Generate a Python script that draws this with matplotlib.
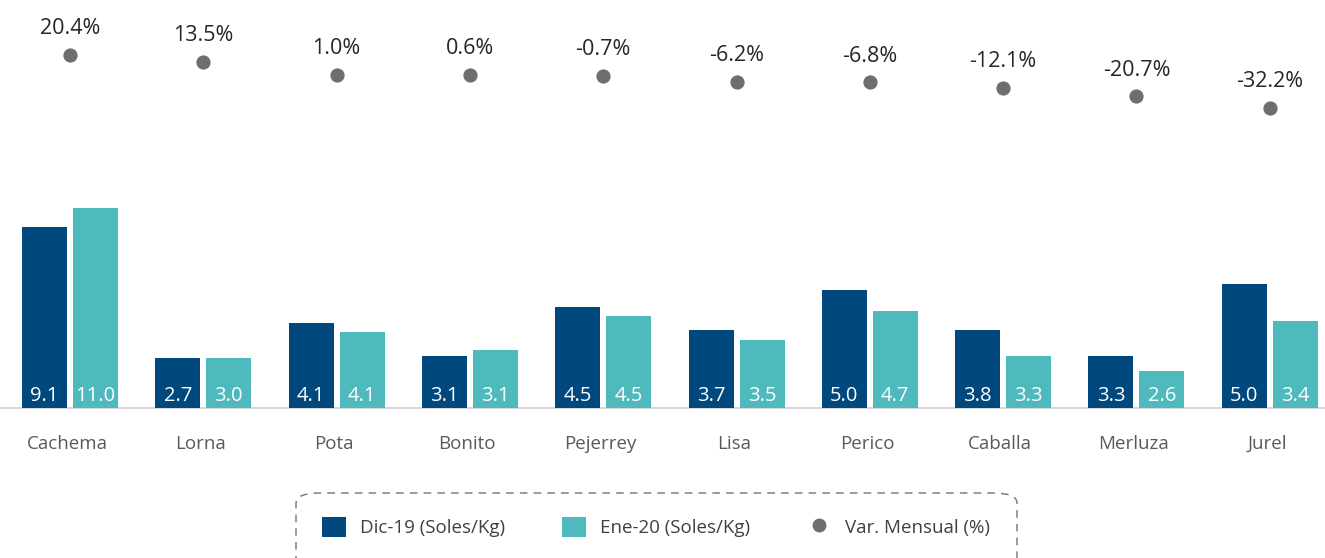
import matplotlib.pyplot as plt
from matplotlib.lines import Line2D
from matplotlib.patches import FancyBboxPatch, Patch

plt.rcParams["font.family"] = ["Open Sans", "DejaVu Sans"]

especies = ["Cachema", "Lorna", "Pota", "Bonito", "Pejerrey",
            "Lisa", "Perico", "Caballa", "Merluza", "Jurel"]
# printed price labels (Soles/Kg)
dic19 = [9.1, 2.7, 4.1, 3.1, 4.5, 3.7, 5.0, 3.8, 3.3, 5.0]
ene20 = [11.0, 3.0, 4.1, 3.1, 4.5, 3.5, 4.7, 3.3, 2.6, 3.4]
# bar lengths as drawn in the source chart
dic19_bar = [9.96, 2.75, 4.68, 2.86, 5.56, 4.29, 6.49, 4.29, 2.86, 6.82]
ene20_bar = [11.0, 2.75, 4.18, 3.19, 5.06, 3.74, 5.34, 2.86, 2.04, 4.79]
var_mensual = [20.4, 13.5, 1.0, 0.6, -0.7, -6.2, -6.8, -12.1, -20.7, -32.2]

C_DIC = "#01497c"
C_ENE = "#4fbabd"
C_DOT = "#6d6e71"

W, H = 1325, 558
fig = plt.figure(figsize=(W / 100, H / 100), dpi=100)
ax = fig.add_axes([0, 0, 1, 1])
ax.set_axis_off()

step = 133.3
x0 = 70
ppu = 200 / 11.0
base = 408
ax.set_xlim(-x0 / step, (W - x0) / step)
ax.set_ylim(-(H - base) / ppu, base / ppu)

x = list(range(len(especies)))
off = 25.5 / step
bw = 45 / step
xd = [i - off for i in x]
xe = [i + off for i in x]
ax.bar(xd, dic19_bar, width=bw, color=C_DIC, zorder=2)
ax.bar(xe, ene20_bar, width=bw, color=C_ENE, zorder=2)
ax.axhline(0, color="#d0d0d0", linewidth=1.2, zorder=1)

for xi, v in zip(xd, dic19):
    ax.annotate(f"{v:.1f}", (xi, 0), xytext=(0, 1.5), textcoords="offset points",
                ha="center", va="bottom", color="white", fontsize=14.5, zorder=3)
for xi, v in zip(xe, ene20):
    ax.annotate(f"{v:.1f}", (xi, 0), xytext=(0, 1.5), textcoords="offset points",
                ha="center", va="bottom", color="white", fontsize=14.5, zorder=3)

for xi, name in zip(x, especies):
    ax.annotate(name, (xi, 0), xytext=(-2, -26), textcoords="offset points",
                ha="center", va="center", color="#595959", fontsize=13.5)

# monthly variation on its own scale
ax2 = ax.twinx()
ax2.set_axis_off()
ppp = 53 / 52.6
ax2.set_ylim(20.4 - (H - 55) / ppp, 20.4 + 55 / ppp)
ax2.scatter(x, var_mensual, s=105, color=C_DOT, zorder=3, linewidths=0)
for xi, v in zip(x, var_mensual):
    ax2.annotate(f"{v:.1f}%", (xi, v), xytext=(0, 19), textcoords="offset points",
                 ha="center", va="center", color="#262626", fontsize=15.5)

# dashed rounded legend frame, cut by the bottom edge
frame = FancyBboxPatch((296 / W, (H - 575) / H), (1017 - 296) / W, 82 / H,
                       boxstyle="round,pad=0,rounding_size=0.018",
                       transform=fig.transFigure, fill=False,
                       edgecolor="#808080", linewidth=1.1,
                       linestyle=(0, (5, 4)), clip_on=False)
fig.patches.append(frame)

handles = [
    Patch(facecolor=C_DIC, label="Dic-19 (Soles/Kg)"),
    Patch(facecolor=C_ENE, label="Ene-20 (Soles/Kg)"),
    Line2D([], [], linestyle="none", marker="o", markersize=10,
           markerfacecolor=C_DOT, markeredgewidth=0, label="Var. Mensual (%)"),
]
fig.legend(handles=handles, ncol=3, loc="center",
           bbox_to_anchor=(656 / W, (H - 527) / H), frameon=False,
           fontsize=13.5, labelcolor="#404040", handlelength=1.3,
           handleheight=1.3, handletextpad=0.75, columnspacing=3.0)

fig.savefig("out.png", dpi=100)
